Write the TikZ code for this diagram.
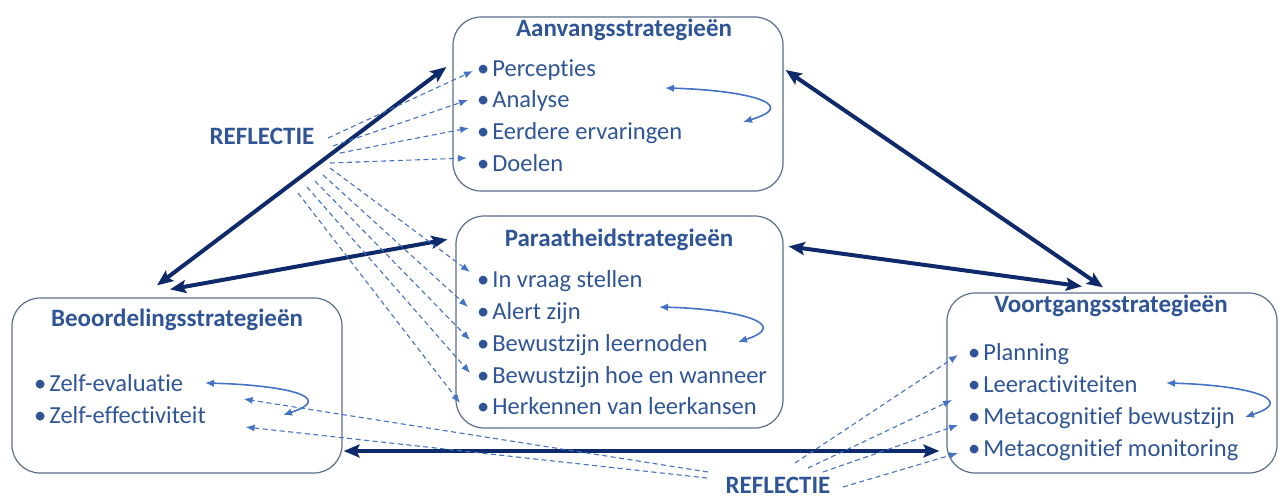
\documentclass[tikz,border=0pt]{standalone}
\usepackage{fontspec}
\setmainfont{Carlito}[Ligatures=NoCommon]
\usetikzlibrary{arrows.meta,calc}
\definecolor{navy}{HTML}{0E2A6B}
\definecolor{tblue}{HTML}{2F5597}
\definecolor{lblue}{HTML}{4472C4}
\definecolor{bgray}{HTML}{5B6D8C}
\begin{document}
\begin{tikzpicture}[x=1pt,y=-1pt,
  box/.style={draw=bgray, line width=1.2pt, rounded corners=28pt, inner sep=0pt},
  ttl/.style={font=\fontsize{25}{28}\selectfont\bfseries, text=tblue, inner sep=0pt, anchor=base},
  item/.style={font=\fontsize{24.5}{28}\selectfont, text=tblue, inner sep=0pt, anchor=base west},
  refl/.style={draw=lblue, line width=1.1pt, dash pattern=on 5pt off 3.5pt, -{Latex[length=9pt,width=7pt]}},
  loop/.style={draw=lblue, line width=1.6pt, {Latex[length=9pt,width=7.5pt]}-{Latex[length=9pt,width=7.5pt]}},
  big/.style={draw=navy, line width=4pt, {Stealth[length=16pt,width=13pt,inset=3pt]}-{Stealth[length=16pt,width=13pt,inset=3pt]}}]
\useasboundingbox (0,0) rectangle (1280,498);

% boxes
\node[box, minimum width=330pt, minimum height=174pt] (aan) at (618,104) {};
\node[box, minimum width=327pt, minimum height=212pt] (par) at (619.5,322) {};
\node[box, minimum width=330pt, minimum height=175pt] (beo) at (177,385.5) {};
\node[box, minimum width=330pt, minimum height=180pt] (voo) at (1112,383) {};

% titles
\node[ttl] (taan) at (624,36) {Aanvangsstrategieën};
\node[ttl] (tpar) at (619,246) {Paraatheidstrategieën};
\node[ttl] (tbeo) at (177,326) {Beoordelingsstrategieën};
\node[ttl] (tvoo) at (1111,312) {Voortgangsstrategieën};

% items
\node[item] (a1) at (477,76) {•\kern3pt Percepties};
\node[item] (a2) at (477,107) {•\kern3pt Analyse};
\node[item] (a3) at (477,139) {•\kern3pt Eerdere ervaringen};
\node[item] (a4) at (477,171) {•\kern3pt Doelen};

\node[item] (p1) at (477,287) {•\kern3pt In vraag stellen};
\node[item] (p2) at (477,319) {•\kern3pt Alert zijn};
\node[item] (p3) at (477,351) {•\kern3pt Bewustzijn leernoden};
\node[item] (p4) at (477,383) {•\kern3pt Bewustzijn hoe en wanneer};
\node[item] (p5) at (477,414) {•\kern3pt Herkennen van leerkansen};

\node[item] (b1) at (34,391) {•\kern3pt Zelf-evaluatie};
\node[item] (b2) at (34,423) {•\kern3pt Zelf-effectiviteit};

\node[item] (v1) at (968,360) {•\kern3pt Planning};
\node[item] (v2) at (968,392) {•\kern3pt Leeractiviteiten};
\node[item] (v3) at (968,424) {•\kern3pt Metacognitief bewustzijn};
\node[item] (v4) at (968,456) {•\kern3pt Metacognitief monitoring};

% reflectie labels
\node[ttl] (rtop) at (262,144) {REFLECTIE};
\node[ttl] (rbot) at (778,493) {REFLECTIE};

% thick double arrows
\draw[big] ([shift={(-6pt,37pt)}]aan.west) -- ([shift={(-20pt,12pt)}]beo.north);
\draw[big] ([shift={(-8pt,-24pt)}]par.north west) -- ([shift={(-7pt,8pt)}]beo.north);
\draw[big] ([shift={(2pt,34pt)}]aan.east) -- ([shift={(-9pt,5pt)}]voo.north);
\draw[big] ([shift={(5pt,-31pt)}]par.north east) -- ([shift={(-30pt,6pt)}]voo.north);
\draw[big] ([shift={(1pt,-65.5pt)}]beo.east) -- ([shift={(-7pt,-68pt)}]voo.west);

% origins of reflection lines
\coordinate (o1) at (328,138);
\coordinate (o2) at (333,146);
\coordinate (o3) at (340,153);
\coordinate (o4) at (330,163);
\coordinate (o5) at (330,168);
\coordinate (o6) at (323,175);
\coordinate (o7) at (315,181);
\coordinate (o8) at (307,187);
\coordinate (o9) at (298,193);
\coordinate (u1) at (708,472);
\coordinate (u2) at (707,478);
\coordinate (u3) at (795,463);
\coordinate (u4) at (808,468);
\coordinate (u5) at (823,472);
\coordinate (u6) at (843,487);

\draw[refl] (o1) -- ([shift={(-4pt,5pt)}]a1.base west);
\draw[refl] (o2) -- ([shift={(-9pt,7pt)}]a2.base west);
\draw[refl] (o3) -- ([shift={(-8pt,11pt)}]a3.base west);
\draw[refl] (o4) -- ([shift={(-10pt,13pt)}]a4.base west);
\draw[refl] (o5) -- ([shift={(-7pt,15pt)}]p1.base west);
\draw[refl] (o6) -- ([shift={(-9pt,12pt)}]p2.base west);
\draw[refl] (o7) -- ([shift={(-7pt,11pt)}]p3.base west);
\draw[refl] (o8) -- ([shift={(-7pt,10pt)}]p4.base west);
\draw[refl] (o9) -- ([shift={(-17pt,11pt)}]p5.base west);

\draw[refl] (u1) -- ([shift={(-99pt,-13.5pt)}]beo.east);
\draw[refl] (u2) -- ([shift={(-97pt,-41.5pt)}]beo.east);
\draw[refl] (u3) -- ([shift={(-10pt,5pt)}]v1.base west);
\draw[refl] (u4) -- ([shift={(-16pt,-8pt)}]v2.base west);
\draw[refl] (u5) -- ([shift={(-10pt,-1pt)}]v3.base west);
\draw[refl] (u6) -- ([shift={(-10pt,3pt)}]v4.base west);

% loop arrows
\coordinate (la1) at (665,88);  \coordinate (la2) at (743,122);
\coordinate (lp1) at (659,307); \coordinate (lp2) at (738,342);
\coordinate (lb1) at (205,383); \coordinate (lb2) at (283,415);
\coordinate (lv1) at (1166,383); \coordinate (lv2) at (1245,417);
\draw[loop] (la1) .. controls ($(la1)+(78,2)$) and ($(la2)+(60,-18)$) .. (la2);
\draw[loop] (lp1) .. controls ($(lp1)+(78,2)$) and ($(lp2)+(55,-18)$) .. (lp2);
\draw[loop] (lb1) .. controls ($(lb1)+(78,2)$) and ($(lb2)+(55,-18)$) .. (lb2);
\draw[loop] (lv1) .. controls ($(lv1)+(78,2)$) and ($(lv2)+(55,-18)$) .. (lv2);
\end{tikzpicture}
\end{document}
